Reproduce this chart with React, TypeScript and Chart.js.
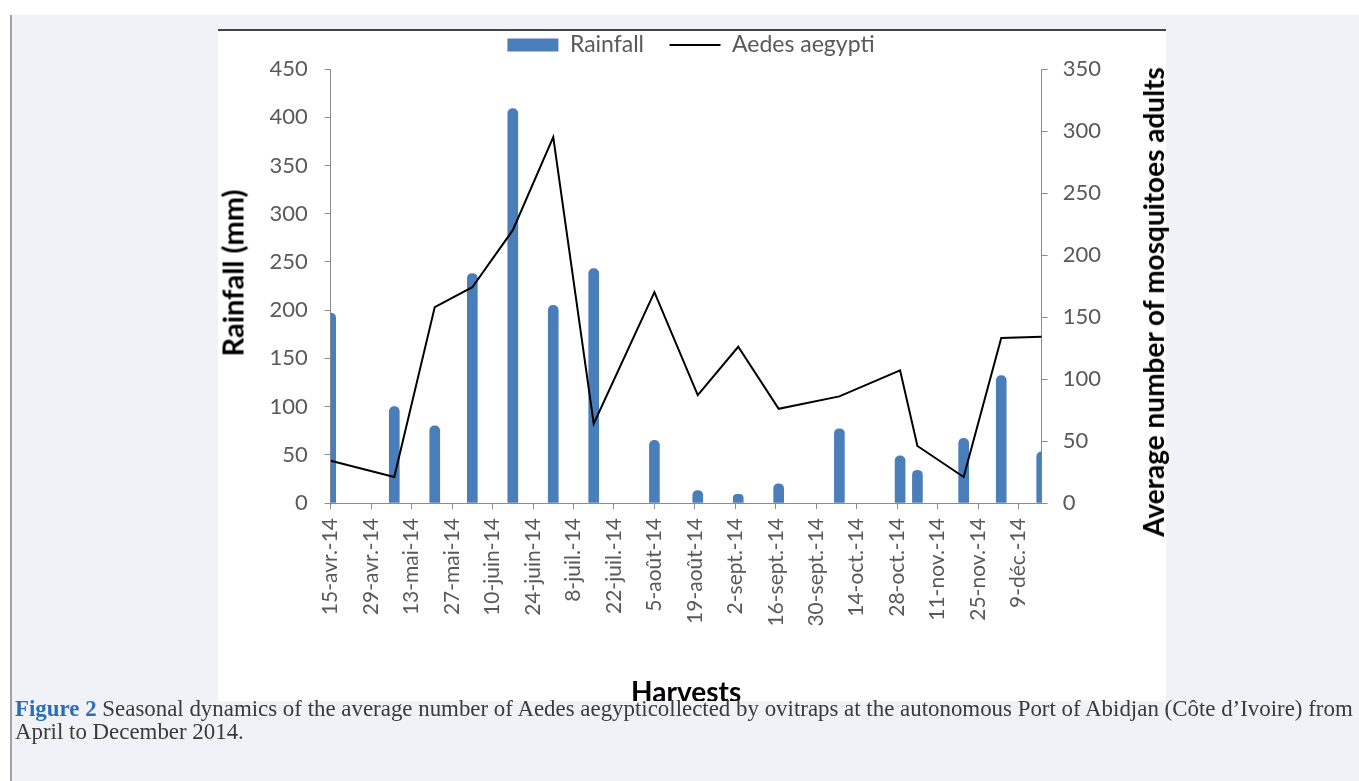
import React, { useEffect, useRef } from 'react';
import { Chart, registerables } from 'chart.js';

Chart.register(...registerables);

// Harvest dates (each bar / point sits on its harvest date)
const harvestDates = [
  '2014-04-15', '2014-05-07', '2014-05-21', '2014-06-03', '2014-06-17',
  '2014-07-01', '2014-07-15', '2014-08-05', '2014-08-20', '2014-09-03',
  '2014-09-17', '2014-10-08', '2014-10-29', '2014-11-04', '2014-11-20',
  '2014-12-03', '2014-12-17',
];

// Rainfall (mm), left axis
const rainfallMm = [197, 100, 80, 238, 409, 205, 243, 65, 13, 9, 20, 77, 49, 34, 67, 132, 53];

// Average number of Aedes aegypti adults, right axis
const aedesAdults = [34, 21, 158, 174, 220, 295, 64, 170, 87, 126, 76, 86, 107, 46, 21, 133, 134];

// X tick labels, one every 14 days from the first harvest
const xTickLabels = [
  '15-avr.-14', '29-avr.-14', '13-mai-14', '27-mai-14', '10-juin-14', '24-juin-14',
  '8-juil.-14', '22-juil.-14', '5-août-14', '19-août-14', '2-sept.-14', '16-sept.-14',
  '30-sept.-14', '14-oct.-14', '28-oct.-14', '11-nov.-14', '25-nov.-14', '9-déc.-14',
];
const xTickStepDays = 14;

const rainfallAxis = { min: 0, max: 450, step: 50 };
const mosquitoAxis = { min: 0, max: 350, step: 50 };

const seriesNames = ['Rainfall', 'Aedes aegypti'];
const axisTitles = { x: 'Harvests', y: 'Rainfall (mm)', y1: 'Average number of mosquitoes adults' };

const captionLead = 'Figure 2';
const captionLine1 = 'Seasonal dynamics of the average number of Aedes aegypticollected by ovitraps at the autonomous Port of Abidjan (Côte d’Ivoire) from';
const captionLine2 = 'April to December 2014.';

const DAY_MS = 86400000;
const FAMILY = 'Lato, "Open Sans", sans-serif';

export default function App() {
  const ref = useRef<HTMLCanvasElement>(null);

  useEffect(() => {
    const canvas = ref.current;
    if (!canvas) return;
    const t0 = Date.parse(harvestDates[0]);
    const days = harvestDates.map((d) => Math.round((Date.parse(d) - t0) / DAY_MS));

    const tickColor = '#595959';
    const axisGrey = '#8c8c8c';
    const family = FAMILY;

    const chart = new Chart(canvas, {
      type: 'bar',
      data: {
        datasets: [
          {
            type: 'bar',
            label: seriesNames[0],
            data: days.map((x, i) => ({ x, y: rainfallMm[i] })),
            backgroundColor: '#4a7ebb',
            borderWidth: 0,
            barThickness: 10,
            borderRadius: 5,
            borderSkipped: 'start',
            yAxisID: 'y',
            order: 2,
          } as any,
          {
            type: 'line',
            label: seriesNames[1],
            data: days.map((x, i) => ({ x, y: aedesAdults[i] })),
            borderColor: '#000000',
            backgroundColor: '#000000',
            borderWidth: 2,
            pointRadius: 0,
            tension: 0,
            yAxisID: 'y1',
            order: 1,
          } as any,
        ],
      },
      options: {
        responsive: false,
        animation: false,
        devicePixelRatio: 1,
        font: { family },
        layout: { padding: 0 },
        plugins: {
          tooltip: { enabled: false },
          legend: {
            display: true,
            position: 'top',
            align: 'center',
            labels: {
              usePointStyle: true,
              pointStyleWidth: 51,
              boxHeight: 13,
              padding: 25.5,
              color: tickColor,
              font: { family, size: 23 },
              generateLabels: (c: any) => {
                const base = (Chart.defaults.plugins.legend.labels as any).generateLabels(c);
                base.sort((a: any, b: any) => a.datasetIndex - b.datasetIndex);
                return base.map((it: any) =>
                  it.datasetIndex === 0
                    ? { ...it, pointStyle: 'rect', lineWidth: 0 }
                    : { ...it, pointStyle: 'line', lineWidth: 2, strokeStyle: '#000000' }
                );
              },
            },
          },
          subtitle: {
            display: true,
            text: '',
            position: 'top',
            weight: 500,
            padding: 0,
            font: { size: 2.5, lineHeight: 1 },
          } as any,
        },
        scales: {
          x: {
            type: 'linear',
            min: days[0],
            max: days[days.length - 1],
            offset: false,
            ticks: {
              stepSize: xTickStepDays,
              includeBounds: false,
              autoSkip: false,
              maxTicksLimit: 40,
              minRotation: 90,
              maxRotation: 90,
              padding: 9,
              color: tickColor,
              font: { family, size: 21 },
              callback: (v: any) => xTickLabels[Math.round(Number(v) / xTickStepDays)] ?? '',
            },
            grid: { drawOnChartArea: false, offset: false, tickLength: 6, color: axisGrey },
            border: { display: true, color: axisGrey, width: 1 },
            title: {
              display: true,
              text: axisTitles.x,
              color: '#000000',
              font: { family, size: 28, weight: 'bold', lineHeight: 0.607 },
              padding: 0,
            },
            afterFit: (s: any) => { s.height = 198; },
          } as any,
          y: {
            type: 'linear',
            position: 'left',
            min: rainfallAxis.min,
            max: rainfallAxis.max,
            ticks: { stepSize: rainfallAxis.step, padding: 17, color: tickColor, font: { family, size: 22 } },
            grid: { drawOnChartArea: false, tickLength: 6, color: axisGrey },
            border: { display: true, color: axisGrey, width: 1 },
            title: { display: false, text: axisTitles.y },
            afterFit: (s: any) => { s.width = 114.7; },
          } as any,
          y1: {
            type: 'linear',
            position: 'right',
            min: mosquitoAxis.min,
            max: mosquitoAxis.max,
            ticks: { stepSize: mosquitoAxis.step, padding: 15, color: tickColor, font: { family, size: 22 } },
            grid: { drawOnChartArea: false, tickLength: 6, color: axisGrey },
            border: { display: true, color: axisGrey, width: 1 },
            title: { display: false, text: axisTitles.y1 },
            afterFit: (s: any) => { s.width = 124.3; },
          } as any,
        },
      },
    });

    let alive = true;
    if ((document as any).fonts && (document as any).fonts.ready) {
      (document as any).fonts.ready.then(() => { if (alive) chart.update(); });
    }
    return () => { alive = false; chart.destroy(); };
  }, []);

  const vTitle = (cx: number, cy: number, size: number): React.CSSProperties => ({
    position: 'absolute', left: cx, top: cy,
    transform: 'translate(-50%, -50%) rotate(-90deg)',
    fontFamily: FAMILY, fontWeight: 'bold', fontSize: size, lineHeight: `${size}px`,
    color: '#000000', whiteSpace: 'nowrap',
  });

  return (
    <div style={{ position: 'absolute', left: 0, top: 0, width: 1359, height: 781, background: '#ffffff', overflow: 'hidden' }}>
      <div style={{ position: 'absolute', left: 10, top: 15, width: 1349, height: 766, background: '#f1f2f7', borderLeft: '2px solid #a3a3a3', boxSizing: 'border-box' }} />
      <div style={{ position: 'absolute', left: 218, top: 29, width: 948, height: 672, background: '#ffffff', borderTop: '2px solid #454545', boxSizing: 'border-box' }} />
      <canvas
        ref={ref}
        width={950}
        height={693}
        style={{ position: 'absolute', left: 216, top: 8, width: 950, height: 693 }}
      />
      <div style={vTitle(231.5, 273, 29)}>{axisTitles.y}</div>
      <div style={vTitle(1153, 302, 28)}>{axisTitles.y1}</div>
      <div style={{ position: 'absolute', left: 15, top: 697, fontFamily: '"Liberation Serif", serif', fontSize: 22.9, lineHeight: '23px', color: '#3a3a3a', whiteSpace: 'nowrap' }}>
        <span style={{ color: '#2a6ebb', fontWeight: 'bold' }}>{captionLead}</span> {captionLine1}
        <br />
        {captionLine2}
      </div>
    </div>
  );
}
